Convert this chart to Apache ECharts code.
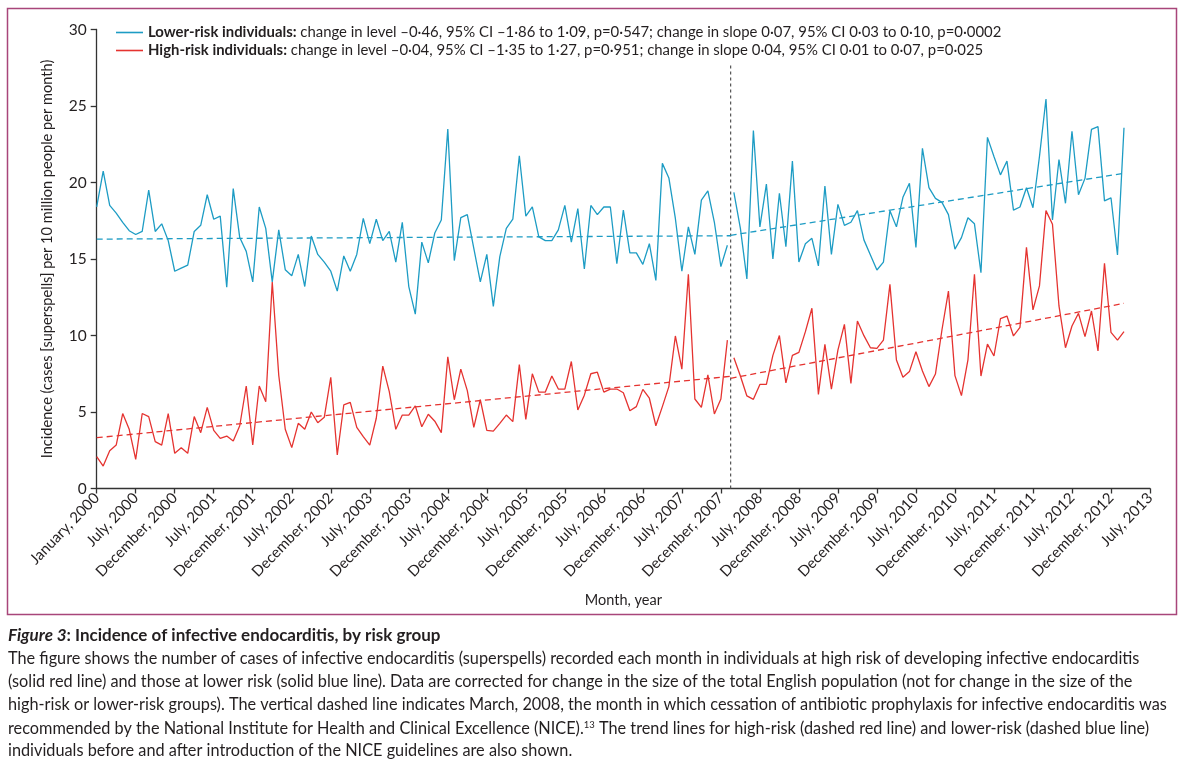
<!DOCTYPE html>
<html>
<head>
<meta charset="utf-8">
<script src="https://cdn.jsdelivr.net/npm/echarts@6/dist/echarts.min.js"></script>
<style>
html,body{margin:0;padding:0;background:#fff;}
#chart{width:1185px;height:773px;}
</style>
</head>
<body>
<div id="chart"></div>
<script>
// ---- data (monthly, January 2000 = month 0) ----
var tickLabels = ['January, 2000','July, 2000','December, 2000','July, 2001','December, 2001','July, 2002','December, 2002','July, 2003','December, 2003','July, 2004','December, 2004','July, 2005','December, 2005','July, 2006','December, 2006','July, 2007','December, 2007','July, 2008','December, 2008','July, 2009','December, 2009','July, 2010','December, 2010','July, 2011','December, 2011','July, 2012','December, 2012','July, 2013'];

var lowerRisk = [18.4,20.75,18.5,18.0,17.4,16.85,16.6,16.8,19.5,16.8,17.3,16.2,14.2,14.4,14.6,16.8,17.2,19.2,17.6,17.8,13.15,19.6,16.4,15.5,13.5,18.4,17.0,13.5,16.9,14.3,13.9,15.3,13.2,16.5,15.3,14.8,14.2,12.9,15.2,14.2,15.3,17.65,16.0,17.6,16.2,16.8,14.8,17.4,13.2,11.4,16.1,14.75,16.7,17.55,23.5,14.9,17.7,17.9,15.7,13.5,15.3,11.9,15.15,17.0,17.6,21.75,17.8,18.4,16.45,16.2,16.2,16.9,18.5,16.1,18.3,14.35,18.5,17.9,18.4,18.4,14.7,18.2,15.4,15.4,14.65,16.0,13.6,21.25,20.3,17.65,14.2,17.1,15.3,18.85,19.45,17.4,14.5,15.9,19.35,17.0,13.7,23.4,17.1,19.9,15.0,19.3,15.8,21.4,14.8,16.0,16.35,14.55,19.77,15.3,18.57,17.2,17.4,18.16,16.25,15.26,14.28,14.8,18.16,17.1,19.03,19.95,15.76,22.23,19.66,18.96,18.7,17.9,15.65,16.4,17.7,17.3,14.1,22.95,21.7,20.5,21.4,18.2,18.4,19.66,18.35,21.7,25.46,17.55,21.5,18.64,23.35,19.2,20.27,23.47,23.65,18.8,19.0,15.26,23.58];

var highRisk = [2.08,1.47,2.47,2.84,4.9,3.87,1.9,4.9,4.7,3.06,2.84,4.9,2.3,2.67,2.3,4.7,3.65,5.3,3.8,3.28,3.43,3.1,4.1,6.7,2.84,6.7,5.67,13.5,7.4,3.87,2.67,4.26,3.87,5.0,4.3,4.65,7.27,2.19,5.46,5.63,4.0,3.39,2.84,4.59,8.0,6.33,3.87,4.8,4.8,5.4,4.04,4.85,4.4,3.65,8.6,5.8,7.8,6.4,4.0,5.8,3.8,3.75,4.26,4.8,4.37,8.1,4.52,7.5,6.3,6.3,7.35,6.5,6.5,8.3,5.13,6.1,7.5,7.6,6.3,6.5,6.5,6.26,5.08,5.35,6.48,5.9,4.1,5.35,6.66,9.97,7.8,14.0,5.85,5.3,7.43,4.87,5.85,9.7,8.55,7.35,6.05,5.83,6.8,6.8,8.7,10.0,6.9,8.7,8.9,10.25,11.78,6.15,9.42,6.5,9.05,10.73,6.87,10.95,9.99,9.2,9.16,9.7,13.34,8.4,7.27,7.64,8.94,7.68,6.66,7.48,10.36,12.9,7.38,6.07,8.4,14.0,7.35,9.44,8.66,11.1,11.27,9.97,10.53,15.76,11.67,13.24,18.16,17.27,11.93,9.2,10.62,11.45,9.93,11.6,8.99,14.72,10.2,9.7,10.26];

var interventionMonth = 97.5;   // between February and March, 2008
var lastMonth = 158;            // March, 2013
var lowerTrendPre = [16.3, 16.52];
var lowerTrendPost = [16.55, 20.6];
var highTrendPre = [3.32, 7.33];
var highTrendPost = [7.2, 12.1];
var interventionLineTop = 27.7;

var legendStats = {
  'Lower-risk individuals': 'change in level \u20130\u00b746, 95% CI \u20131\u00b786 to 1\u00b709, p=0\u00b7547; change in slope 0\u00b707, 95% CI 0\u00b703 to 0\u00b710, p=0\u00b70002',
  'High-risk individuals': 'change in level \u20130\u00b704, 95% CI \u20131\u00b735 to 1\u00b727, p=0\u00b7951; change in slope 0\u00b704, 95% CI 0\u00b701 to 0\u00b707, p=0\u00b7025'
};

var captionTitle = ['Figure 3', ': Incidence of infective endocarditis, by risk group'];
var captionLines = [
  'The figure shows the number of cases of infective endocarditis (superspells) recorded each month in individuals at high risk of developing infective endocarditis',
  '(solid red line) and those at lower risk (solid blue line). Data are corrected for change in the size of the total English population (not for change in the size of the',
  'high-risk or lower-risk groups). The vertical dashed line indicates March, 2008, the month in which cessation of antibiotic prophylaxis for infective endocarditis was',
  'recommended by the National Institute for Health and Clinical Excellence (NICE).{sup|13} The trend lines for high-risk (dashed red line) and lower-risk (dashed blue line)',
  'individuals before and after introduction of the NICE guidelines are also shown.'
];

// ---- build ----
var BLUE = '#1d9cc4', RED = '#e53330', INK = '#231f20';
var FONT = 'Lato';

function toSeries(arr) {
  var out = [];
  for (var i = 0; i < arr.length; i++) {
    if (i === Math.ceil(interventionMonth)) out.push([interventionMonth, '-']);
    out.push([i, arr[i]]);
  }
  return out;
}
function trend(seg, pre) {
  return pre ? [[0, seg[0]], [interventionMonth, seg[1]]] : [[interventionMonth, seg[0]], [lastMonth, seg[1]]];
}
function dashed(name, color, data) {
  return {name: name, type: 'line', data: data, symbol: 'none', silent: true,
    lineStyle: {color: color, width: 1.3, type: [6, 4]}, z: 3};
}

var graphics = [
  {type: 'rect', shape: {x: 7.5, y: 8.5, width: 1169, height: 606}, style: {fill: 'none', stroke: '#a8467a', lineWidth: 1.5}},
  {type: 'text', left: 8, top: 627, style: {
    text: '{i|' + captionTitle[0] + '}{b|' + captionTitle[1] + '}',
    rich: {
      i: {fontFamily: FONT, fontSize: 17, fontWeight: 'bold', fontStyle: 'italic', fill: INK, color: INK},
      b: {fontFamily: FONT, fontSize: 17, fontWeight: 'bold', fill: INK, color: INK}
    }
  }}
];
for (var k = 0; k < captionLines.length; k++) {
  graphics.push({type: 'text', left: 8, top: 651 + k * 23, style: {
    text: captionLines[k],
    fontFamily: FONT, fontSize: 16.3, fill: INK,
    rich: {sup: {fontFamily: FONT, fontSize: 9.5, fill: INK, padding: [0, 0, 8, 0]}}
  }});
}

var chart = echarts.init(document.getElementById('chart'), null, {renderer: 'canvas'});
chart.setOption({
  animation: false,
  backgroundColor: '#fff',
  textStyle: {fontFamily: FONT},
  grid: {left: 96.7, right: 35, top: 29.5, bottom: 284.5, containLabel: false},
  legend: {
    left: 111, top: 20, orient: 'vertical', itemGap: 3,
    itemWidth: 27, itemHeight: 1.6, icon: 'rect',
    data: ['Lower-risk individuals', 'High-risk individuals'],
    formatter: function (name) { return '{b|' + name + ':} ' + legendStats[name]; },
    textStyle: {fontFamily: FONT, fontSize: 14.9, color: INK, padding: [0, 0, 0, 0],
      rich: {b: {fontFamily: FONT, fontSize: 14.9, fontWeight: 'bold', color: INK}}}
  },
  xAxis: {
    type: 'value', min: 0, max: 162, interval: 6,
    name: 'Month, year', nameLocation: 'middle', nameGap: 104,
    nameTextStyle: {fontFamily: FONT, fontSize: 14.5, color: INK},
    axisLine: {show: true, lineStyle: {color: '#333', width: 1.3}},
    axisTick: {show: true, length: 5, lineStyle: {color: '#333', width: 1.3}},
    splitLine: {show: false},
    axisLabel: {rotate: 46, margin: 7, fontFamily: FONT, fontSize: 15, color: INK,
      formatter: function (v) { return tickLabels[Math.round(v / 6)] || ''; }}
  },
  yAxis: {
    type: 'value', min: 0, max: 30, interval: 5,
    name: 'Incidence (cases [superspells] per 10 million people per month)',
    nameLocation: 'middle', nameGap: 42,
    nameTextStyle: {fontFamily: FONT, fontSize: 14.6, color: INK},
    axisLine: {show: true, lineStyle: {color: '#333', width: 1.3}},
    axisTick: {show: true, length: 6, lineStyle: {color: '#333', width: 1.3}},
    splitLine: {show: false},
    axisLabel: {margin: 10, fontFamily: FONT, fontSize: 15.5, color: INK}
  },
  series: [
    {name: 'Lower-risk individuals', type: 'line', data: toSeries(lowerRisk), symbol: 'none',
      connectNulls: false, color: BLUE, lineStyle: {color: BLUE, width: 1.3}, z: 4},
    {name: 'High-risk individuals', type: 'line', data: toSeries(highRisk), symbol: 'none',
      connectNulls: false, color: RED, lineStyle: {color: RED, width: 1.3}, z: 4},
    dashed('Lower-risk trend before', BLUE, trend(lowerTrendPre, true)),
    dashed('Lower-risk trend after', BLUE, trend(lowerTrendPost, false)),
    dashed('High-risk trend before', RED, trend(highTrendPre, true)),
    dashed('High-risk trend after', RED, trend(highTrendPost, false)),
    {name: 'March, 2008', type: 'line', symbol: 'none', silent: true,
      data: [[interventionMonth, 0], [interventionMonth, interventionLineTop]],
      lineStyle: {color: '#555', width: 1.2, type: [3, 3]}, z: 2}
  ],
  graphic: graphics
});
</script>
</body>
</html>
